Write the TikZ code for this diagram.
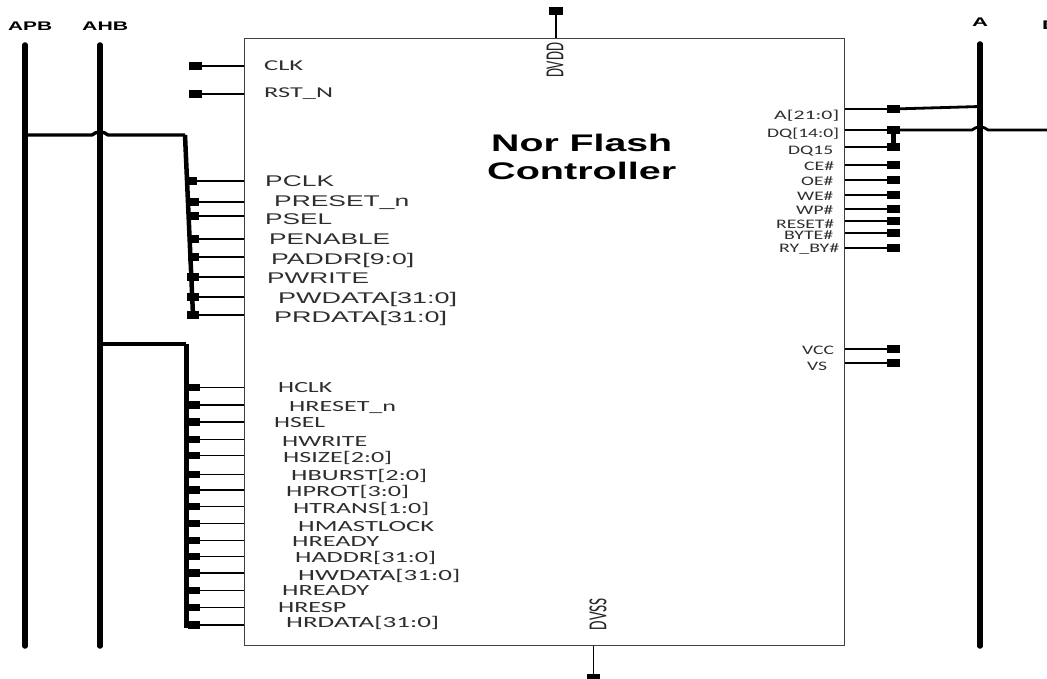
\documentclass[tikz,border=0pt]{standalone}
\usepackage{graphicx}
\usepackage{fontspec}
\newfontfamily\libfont{Liberation Sans}
\newfontfamily\carfont{Carlito}
\newsavebox\fitbox
\newcommand\fitw[2]{\sbox\fitbox{#2}\pgfmathsetmacro\fitr{(#1)/\the\wd\fitbox}\scalebox{\fitr}[1]{\usebox\fitbox}}
% style, name, x0, x1, y-centre, text
\newcommand\lab[6]{\node[#1] (#2) at (#3,#5) {\fitw{#4-#3}{#6}};}
\tikzset{
  x=1pt,y=-1pt,
  labbase/.style={inner sep=0pt,anchor=base west,text=black!82},
  labP/.style={labbase,font=\libfont\fontsize{15.5}{18}\selectfont,yshift=-6.4pt},
  labC/.style={labbase,font=\carfont\fontsize{15}{18}\selectfont,yshift=-5.6pt},
  labH/.style={labbase,font=\carfont\fontsize{15.5}{18}\selectfont,yshift=-5.8pt},
  labR/.style={labbase,font=\carfont\fontsize{13}{16}\selectfont,yshift=-4.8pt},
  labB/.style={inner sep=0pt,anchor=base west,font=\libfont\bfseries\fontsize{12.5}{14}\selectfont,yshift=-4.5pt},
  labT/.style={inner sep=0pt,anchor=base west,font=\libfont\bfseries\fontsize{24}{28}\selectfont,yshift=-9.4pt},
  labV/.style={inner sep=0pt,anchor=center,rotate=90,text=black!85,font=\carfont\fontsize{26}{28}\selectfont},
  chip/.style={draw=black!75,line width=1pt,fill=white,minimum width=600pt,minimum height=606pt,inner sep=0pt},
  pin/.style={fill=black,inner sep=0pt,minimum height=7.5pt,minimum width=#1},
  pin/.default=13pt,
  stub/.style={line width=1.4pt,black},
  bus/.style={line width=5.5pt,line cap=round,black},
  wire/.style={line width=3.4pt,black,line join=round},
}
\begin{document}
\begin{tikzpicture}
\path[use as bounding box,fill=white] (0,0) rectangle (1047,679);
\begin{scope}
\clip (0,0) rectangle (1047,679);

\node[chip] (box) at (544,342) {};

% buses
\coordinate (apbT) at (25,45);  \coordinate (apbB) at (25,646);
\coordinate (ahbT) at (100,45); \coordinate (ahbB) at (100,646);
\coordinate (aT) at (980,44);   \coordinate (aB) at (980,646);
\coordinate (dT) at (1049.7,44); \coordinate (dB) at (1049.7,646);
\draw[bus] (apbT) -- (apbB);
\draw[bus] (ahbT) -- (ahbB);
\draw[bus] (aT) -- (aB);
\draw[bus] (dT) -- (dB);

% left pins: CLK, RST_N
\foreach \n/\y in {clk/66,rst/94}{
  \node[pin] (\n) at (195,\y) {};
  \draw[stub] (\n.center) -- (box.west |- \n);
}
% APB pins
\foreach \i/\y/\x/\w in {1/181/193/8pt,2/202/194.5/9pt,3/216/194.5/9pt,4/239/194.5/9pt,5/257/193.5/11pt,6/277/193/12pt,7/297/193/12pt,8/315/193/12pt}{
  \node[pin=\w] (p\i) at (\x,\y) {};
  \draw[stub] (p\i.center) -- (box.west |- p\i);
}
% AHB pins
\foreach \i/\y in {1/387.3,2/405,3/422,4/439.7,5/455.3,6/474.3,7/490,8/506.3,9/523.7,10/540.3,11/556.7,12/573,13/590.7,14/607.7,15/625}{
  \node[pin=12pt] (h\i) at (193.5,\y) {};
  \draw[stub] (h\i.center) -- (box.west |- h\i);
}
% right pins
\foreach \i/\y in {1/109,2/130,3/147,4/165,5/180,6/195,7/209,8/221,9/233,10/248,11/349,12/363}{
  \node[pin] (r\i) at (893.5,\y) {};
  \draw[stub] (r\i.center) -- (box.east |- r\i);
}
% power pins
\node[pin=14pt] (vdd) at (556,11) {};
\node[pin] (vss) at (593.5,678) {};
\draw[line width=1.5pt] (vdd.center) -- (box.north -| vdd);
\draw[line width=1.5pt] (vss.center) -- (box.south -| vss);

% APB wire with hop over AHB
\coordinate (apbJ) at (25,135);
\coordinate (hopA) at (92,135);
\coordinate (hopB) at (108,135);
\coordinate (apbK) at (185,135);
\draw[wire] (apbJ) -- (hopA) .. controls +(4,-4) and +(-4,-4) .. (hopB) -- (apbK);
\draw[line width=4.5pt] (apbK) -- (p8.center);

% AHB wire
\coordinate (ahbJ) at (100,344);
\coordinate (ahbK) at (186,344);
\coordinate (ahbL) at (186,625);
\draw[wire] (ahbJ) -- (ahbK);
\draw[line width=5pt] (ahbK) -- (ahbL) -- (h15.center);

% right wires
\coordinate (aJ) at (980,106.5);
\draw[line width=2.8pt] (r1.center) -- (aJ);
\coordinate (hopC) at (972,130);
\coordinate (hopD) at (988,130);
\coordinate (dJ) at (1047,130);
\draw[line width=2.8pt] (r2.center) -- (hopC) .. controls +(4,-4) and +(-4,-4) .. (hopD) -- (dJ);
\draw[line width=4.5pt] (r2.center) -- (r3.center);

% bus titles
\lab{labB}{tAPB}{8}{52}{26}{APB}
\lab{labB}{tAHB}{82}{128}{26}{AHB}
\lab{labB}{tA}{972}{988}{22}{A}
\lab{labB}{tD}{1042}{1058}{25}{D}

% title
\lab{labT}{tt1}{491}{672}{142}{Nor Flash}
\lab{labT}{tt2}{487}{676}{170}{Controller}

% clock labels
\lab{labC}{lclk}{264}{303}{65}{CLK}
\lab{labC}{lrst}{264}{333}{92}{RST\_N}

% APB labels
\lab{labP}{l1}{265}{334}{180}{PCLK}
\lab{labP}{l2}{274}{409}{200}{PRESET\_n}
\lab{labP}{l3}{265}{332}{218}{PSEL}
\lab{labP}{l4}{269}{390}{238}{PENABLE}
\lab{labP}{l5}{271}{414}{258}{PADDR[9:0]}
\lab{labP}{l6}{267}{369}{277}{PWRITE}
\lab{labP}{l7}{278}{457}{297}{PWDATA[31:0]}
\lab{labP}{l8}{274}{447}{316}{PRDATA[31:0]}

% AHB labels
\lab{labH}{m1}{278}{332}{387}{HCLK}
\lab{labH}{m2}{289}{396}{406}{HRESET\_n}
\lab{labH}{m3}{274}{325}{422}{HSEL}
\lab{labH}{m4}{282}{367}{441}{HWRITE}
\lab{labH}{m5}{283}{392}{457}{HSIZE[2:0]}
\lab{labH}{m6}{291}{427}{475}{HBURST[2:0]}
\lab{labH}{m7}{286}{409}{491}{HPROT[3:0]}
\lab{labH}{m8}{293}{429}{508}{HTRANS[1:0]}
\lab{labH}{m9}{298}{434}{526}{HMASTLOCK}
\lab{labH}{m10}{292}{379}{541}{HREADY}
\lab{labH}{m11}{295}{436}{557}{HADDR[31:0]}
\lab{labH}{m12}{298}{460}{575}{HWDATA[31:0]}
\lab{labH}{m13}{282}{369}{590}{HREADY}
\lab{labH}{m14}{278}{346}{607}{HRESP}
\lab{labH}{m15}{286}{439}{622}{HRDATA[31:0]}

% right labels
\lab{labR}{n1}{774}{839}{115}{A[21:0]}
\lab{labR}{n2}{767}{839}{133}{DQ[14:0]}
\lab{labR}{n3}{788}{833}{150}{DQ15}
\lab{labR}{n4}{804}{834}{166}{CE\#}
\lab{labR}{n5}{801}{833}{181}{OE\#}
\lab{labR}{n6}{797}{833}{196}{WE\#}
\lab{labR}{n7}{796}{833}{210}{WP\#}
\lab{labR}{n8}{776}{834}{224}{RESET\#}
\lab{labR}{n9}{784}{833}{235}{BYTE\#}
\lab{labR}{n10}{779}{839}{248}{RY\_BY\#}
\lab{labR}{n11}{802}{834}{350}{VCC}
\lab{labR}{n12}{807}{827}{366}{VS}

% power labels
\node[labV] (ldvdd) at (555,60.5) {\fitw{35}{DVDD}};
\node[labV] (ldvss) at (598,614) {\fitw{32}{DVSS}};
\end{scope}
\end{tikzpicture}
\end{document}
